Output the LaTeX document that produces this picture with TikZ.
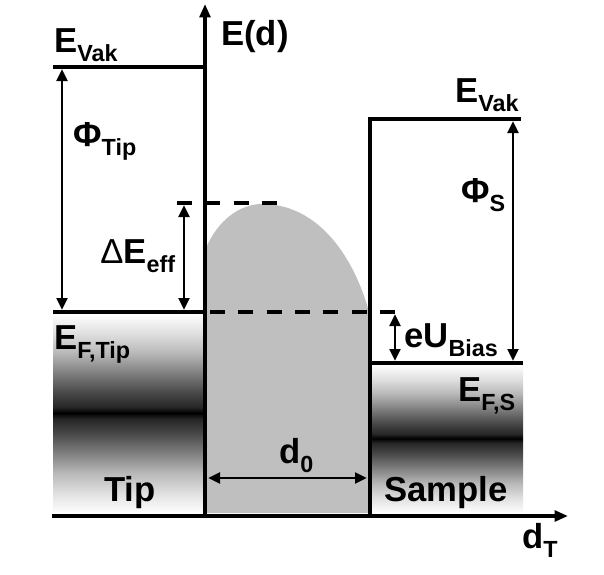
\documentclass[tikz,border=0pt]{standalone}
\usepackage{fontspec}
\setmainfont{Liberation Sans}
\usepackage{tikz}
\usetikzlibrary{arrows.meta}

\pgfdeclareverticalshading{bandshade}{100bp}{color(0bp)=(white); color(25bp)=(white);
  color(30bp)=(black!12); color(35bp)=(black!28); color(40bp)=(black!50); color(45bp)=(black!72);
  color(48.5bp)=(black!85); color(50bp)=(black); color(51.5bp)=(black!85); color(55bp)=(black!72);
  color(60bp)=(black!50); color(65bp)=(black!28); color(70bp)=(black!12); color(75bp)=(white);
  color(100bp)=(white)}
\colorlet{barrier}{black!25}
\newcommand{\lsub}[1]{\raisebox{-7pt}{\fontsize{17.5}{18}\selectfont #1}}

\begin{document}
\begin{tikzpicture}[x=0.75pt, y=-0.75pt,
  level/.style={line width=2.8pt},
  axis/.style={line width=2.8pt, -{Triangle[length=10pt,width=8pt]}},
  dimarrow/.style={line width=2.2pt,
    {Triangle[length=9pt,width=8pt]}-{Triangle[length=9pt,width=8pt]}},
  fermi/.style={line width=2.8pt, dash pattern=on 11.25pt off 10pt},
  lbl/.style={anchor=base west, inner sep=0pt,
    font=\fontsize{26}{27}\selectfont\bfseries}
]
  \useasboundingbox (0,0) rectangle (604,575);

  % bands of tip and sample
  \shade[shading=bandshade] (53,313) rectangle (205,513);
  \shade[shading=bandshade] (370,364) rectangle (523,513);

  % tunnel barrier
  \fill[barrier] (206,513) -- (206,248) .. controls (218,220) and (240,204) .. (262,204)
    .. controls (320,204) and (355,260) .. (369,312) -- (369,513) -- cycle;

  % axes
  \coordinate (org) at (205,517);
  \coordinate (etop) at (205,4);
  \coordinate (dleft) at (52,516);
  \coordinate (dright) at (568,516);
  \draw[axis] (org) -- (etop);
  \draw[axis] (dleft) -- (dright);

  % levels
  \coordinate (tvak0) at (53,67);   \coordinate (tvak1) at (206,67);
  \coordinate (tfermi0) at (53,312); \coordinate (tfermi1) at (206,312);
  \coordinate (sbot) at (370,517);  \coordinate (svak0) at (370,119);
  \coordinate (svak1) at (521,119);
  \coordinate (sfermi0) at (370,363); \coordinate (sfermi1) at (523,363);
  \draw[level] (tvak0) -- (tvak1);
  \draw[level] (tfermi0) -- (tfermi1);
  \draw[level] (sbot) -- (svak0) -- (svak1);
  \draw[level] (sfermi0) -- (sfermi1);

  % dashed levels
  \coordinate (top0) at (177,203);  \coordinate (top1) at (278,203);
  \coordinate (ef0) at (210,312);   \coordinate (ef1) at (398,312);
  \draw[fermi] (top0) -- (top1);
  \draw[fermi] (ef0) -- (ef1);

  % dimension arrows
  \coordinate (phit0) at (62,69);   \coordinate (phit1) at (62,310);
  \coordinate (de0) at (184,205);   \coordinate (de1) at (184,310);
  \coordinate (phis0) at (513,121); \coordinate (phis1) at (513,361);
  \coordinate (eu0) at (395,314);   \coordinate (eu1) at (395,361);
  \coordinate (d0l) at (208,478);   \coordinate (d0r) at (367,478);
  \draw[dimarrow] (phit0) -- (phit1);
  \draw[dimarrow] (de0) -- (de1);
  \draw[dimarrow] (phis0) -- (phis1);
  \draw[dimarrow] (eu0) -- (eu1);
  \draw[dimarrow] (d0l) -- (d0r);

  % labels
  \node[lbl] (evaktip) at (54,52) {E\lsub{Vak}};
  \node[lbl] (ed) at (221,45) {E(d)};
  \node[lbl] (phitip) at (73,146) {Φ\lsub{Tip}};
  \node[lbl] (deltae) at (100,263) {{\mdseries Δ}E\lsub{eff}};
  \node[lbl] (evaks) at (455,102) {E\lsub{Vak}};
  \node[lbl] (phisl) at (461,202) {Φ\lsub{S}};
  \node[lbl] (eubias) at (404,347) {eU\lsub{Bias}};
  \node[lbl] (eftip) at (54,349) {E\lsub{F,Tip}};
  \node[lbl] (efs) at (458,401) {E\lsub{F,S}};
  \node[lbl] (dnull) at (279,463) {d\lsub{0}};
  \node[lbl] (tip) at (104,501) {Tip};
  \node[lbl] (sample) at (384,501) {Sample};
  \node[lbl] (dt) at (522,548) {d\lsub{T}};
\end{tikzpicture}
\end{document}
